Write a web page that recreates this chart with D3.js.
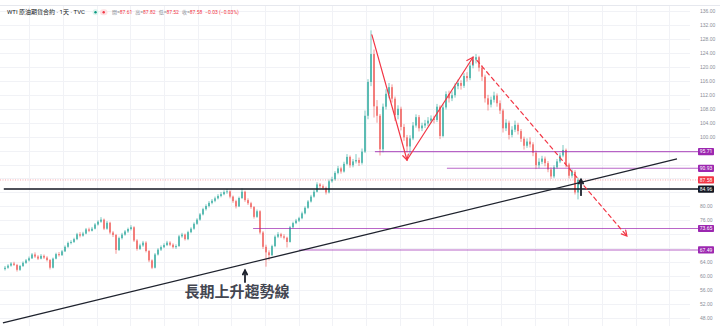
<!DOCTYPE html>
<html>
<head>
<meta charset="utf-8">
<script src="https://cdn.jsdelivr.net/npm/d3@7"></script>
<style>
  html, body { margin: 0; padding: 0; background: #fff; }
  svg { display: block; font-family: Roboto, "Noto Sans CJK TC", sans-serif; }
</style>
</head>
<body>
<div id="chart"></div>
<script>
// WTI daily candles (two sessions per candle)
var opens = [
  62.0,62.4,63.0,63.6,63.2,61.8,62.9,63.8,64.5,65.1,
  66.2,65.6,65.0,65.8,65.3,64.6,62.4,65.0,66.3,66.0,
  67.1,68.4,69.5,69.8,70.6,72.0,71.6,72.2,73.4,73.0,
  73.6,74.8,75.6,76.2,73.6,75.3,72.5,71.8,67.5,70.9,
  71.9,72.8,73.5,74.0,70.2,67.8,68.8,69.6,67.2,64.5,
  62.4,66.2,67.6,68.3,68.9,69.6,69.0,68.3,68.6,71.4,
  71.9,70.6,72.6,73.6,75.0,76.2,77.7,79.2,80.1,81.0,
  81.6,82.3,83.0,83.5,84.1,84.3,82.8,81.5,80.0,82.4,
  84.2,81.8,80.9,79.8,77.0,78.6,72.5,68.4,66.8,66.0,
  68.6,71.3,72.0,71.4,71.0,69.8,74.0,75.2,75.9,76.6,
  78.0,79.6,81.4,82.8,84.2,86.3,85.8,85.3,84.0,87.2,
  87.8,89.6,90.9,90.0,92.2,94.2,91.8,92.9,93.3,92.5,
  95.7,106.0,115.7,123.7,108.7,106.0,96.4,108.6,112.3,114.2,
  110.9,106.2,108.0,102.8,99.8,97.2,99.5,103.2,105.6,102.4,
  103.2,103.8,104.6,105.2,104.8,108.6,100.2,108.4,112.2,111.0,
  111.9,114.5,115.4,114.6,117.4,116.8,120.4,122.1,122.8,119.8,
  117.2,111.0,109.2,110.6,111.8,109.6,107.5,102.4,104.0,100.5,
  102.0,103.4,101.6,99.4,97.4,98.6,97.8,95.4,91.8,92.8,
  93.7,92.4,90.6,88.6,91.2,92.9,94.6,96.2,92.0,88.8,
  89.9,84.0,87.61
];
var highs = [
  62.9,63.4,64.0,64.1,63.5,63.2,64.2,64.9,65.6,66.6,
  66.8,66.0,66.3,66.2,65.7,64.9,65.3,66.7,66.9,67.5,
  68.8,69.9,70.3,71.0,72.4,72.6,72.7,73.8,73.9,74.1,
  75.2,76.0,76.9,76.5,75.8,75.6,72.9,72.1,71.3,72.4,
  73.2,73.9,74.6,74.3,70.6,69.3,70.1,70.0,67.5,64.8,
  66.6,68.0,68.8,69.4,70.1,70.0,69.4,69.1,71.8,72.4,
  72.2,73.0,74.0,75.4,76.6,78.1,79.6,80.6,81.5,82.1,
  82.8,83.5,84.1,84.6,85.0,84.6,83.1,81.9,82.8,85.2,
  84.5,82.3,81.3,80.1,79.1,78.9,72.9,69.0,67.4,69.0,
  71.7,72.6,72.4,72.0,71.3,74.4,75.6,76.4,77.0,78.5,
  80.0,81.8,83.3,84.7,86.9,86.7,86.3,85.7,87.7,88.5,
  90.1,91.6,91.4,92.8,95.0,94.6,93.6,95.0,94.0,96.6,
  107.5,116.5,130.5,125.0,110.5,106.5,109.5,113.6,115.4,115.0,
  111.5,109.0,108.6,103.6,100.5,100.4,104.2,106.4,106.2,104.0,
  104.8,105.6,106.1,106.0,109.4,109.0,109.3,113.0,113.2,113.0,
  115.3,116.4,116.2,118.2,118.5,121.2,123.0,123.7,123.2,120.5,
  117.8,112.0,111.5,112.9,112.4,110.4,108.0,105.0,104.6,103.0,
  104.6,104.0,102.2,100.0,99.5,99.8,98.4,96.0,93.8,94.5,
  94.3,93.0,91.2,91.8,93.6,95.3,97.6,96.6,92.5,90.6,
  90.4,88.2,87.82
];
var lows = [
  61.6,62.1,62.7,62.9,61.3,61.5,62.6,63.5,64.2,64.9,
  65.2,64.6,64.8,64.9,64.2,61.9,62.2,64.8,65.6,65.8,
  66.9,68.1,69.1,69.5,70.3,71.1,71.3,72.0,72.6,72.8,
  73.4,74.5,75.3,73.2,73.3,72.0,71.2,66.4,67.2,70.5,
  71.6,72.4,73.1,69.8,67.3,67.5,68.4,66.8,64.0,62.0,
  62.2,65.9,67.2,68.0,68.6,68.6,67.9,67.8,68.4,71.0,
  70.2,70.3,72.3,73.3,74.7,75.9,77.4,78.8,79.7,80.6,
  81.2,82.0,82.6,83.2,83.6,82.3,81.0,79.4,79.8,82.1,
  81.3,80.4,79.3,76.5,76.7,72.0,67.8,62.7,64.5,65.7,
  68.3,70.9,70.9,70.5,68.2,69.6,73.7,74.9,75.5,76.3,
  77.7,79.3,81.1,82.5,84.0,85.3,84.8,83.4,83.7,86.8,
  87.4,89.2,89.4,89.7,91.8,91.1,91.2,92.3,91.6,92.0,
  95.3,105.0,114.5,105.5,104.0,94.6,95.5,107.8,111.0,109.8,
  104.5,105.0,101.8,98.8,95.5,94.8,99.0,102.6,101.5,101.6,
  102.5,103.0,103.9,103.8,104.2,99.3,99.8,107.8,109.8,110.2,
  111.2,113.6,113.5,114.0,115.8,116.2,119.6,121.0,118.7,116.0,
  109.8,107.5,108.4,109.8,108.6,106.5,101.2,101.6,99.2,99.8,
  101.3,100.6,98.5,96.3,96.8,96.9,94.4,90.7,90.9,92.1,
  91.5,89.8,87.9,88.1,90.8,92.4,94.1,91.2,88.0,88.2,
  83.4,82.0,87.52
];
var closes = [
  62.4,63.0,63.6,63.2,61.8,62.9,63.8,64.5,65.1,66.2,
  65.6,65.0,65.8,65.3,64.6,62.4,65.0,66.3,66.0,67.1,
  68.4,69.5,69.8,70.6,72.0,71.6,72.2,73.4,73.0,73.6,
  74.8,75.6,76.2,73.6,75.3,72.5,71.8,67.5,70.9,71.9,
  72.8,73.5,74.0,70.2,67.8,68.8,69.6,67.2,64.5,62.4,
  66.2,67.6,68.3,68.9,69.6,69.0,68.3,68.6,71.4,71.9,
  70.6,72.6,73.6,75.0,76.2,77.7,79.2,80.1,81.0,81.6,
  82.3,83.0,83.5,84.1,84.3,82.8,81.5,80.0,82.4,84.2,
  81.8,80.9,79.8,77.0,78.6,72.5,68.4,66.8,66.0,68.6,
  71.3,72.0,71.4,71.0,69.8,74.0,75.2,75.9,76.6,78.0,
  79.6,81.4,82.8,84.2,86.3,85.8,85.3,84.0,87.2,87.8,
  89.6,90.9,90.0,92.2,94.2,91.8,92.9,93.3,92.5,95.7,
  106.0,115.7,123.7,108.7,106.0,96.4,108.6,112.3,114.2,110.9,
  106.2,108.0,102.8,99.8,97.2,99.5,103.2,105.6,102.4,103.2,
  103.8,104.6,105.2,104.8,108.6,100.2,108.4,112.2,111.0,111.9,
  114.5,115.4,114.6,117.4,116.8,120.4,122.1,122.8,119.8,117.2,
  111.0,109.2,110.6,111.8,109.6,107.5,102.4,104.0,100.5,102.0,
  103.4,101.6,99.4,97.4,98.6,97.8,95.4,91.8,92.8,93.7,
  92.4,90.6,88.6,91.2,92.9,94.6,96.2,92.0,88.8,89.9,
  84.0,87.6,87.58
];

var priceTicks = [48,52,56,60,64,68,72,76,80,84,88,92,96,100,104,108,112,116,120,124,128,132,136];
// month boundaries, in candle index
var monthLines = [8,19.2,30.5,41.7,52.9,64.2,75.4,86.6,97.9,109.1,120.3,131.6,142.8,154,165.3,176.5,187.7,199,210.2,221.4];

// horizontal levels drawn on the chart (price, first candle index)
var levelPrices = [95.71, 90.93, 73.65, 67.49];
var levelStarts = [123.3, 147.3, 82.7, 98];
var supportPrice = 84.96;
var lastPrice = 87.58;

// drawings, as [candle index, price]
var trendLine = [[-0.7, 46.54], [224, 93.6]];
var legDown = [[122.3, 129.2], [134, 93.3]];
var legUp = [[134, 93.3], [156, 122.8]];
var projection = [[157.3, 121.9], [207.3, 71.5]];
var markTrend = [[80, 58.3], [80, 61.6]];
var markLast = [[192, 83.2], [192, 87.7]];
var noteAt = [77.3, 54.0];

var header = "WTI 原油期貨合約 · 1天 · TVC";
var ohlcLabels = ["開=", "高=", "低=", "收="];
var change = "−0.03 (−0.03%)";

var width = 720, height = 326,
    axisX = 698,
    up = "#26a69a", down = "#ef5350",
    purple = "#9c27b0", red = "#f23645", ink = "#131722";

var x = d3.scaleLinear().domain([0, 192]).range([5, 581]);
var y = d3.scaleLinear().domain([48, 136]).range([317.9, 11.2]);

var svg = d3.select("#chart").append("svg")
  .attr("width", width)
  .attr("height", height);

// grid
svg.append("g").selectAll("line")
  .data(priceTicks).enter().append("line")
  .attr("x1", 0).attr("x2", axisX - 8)
  .attr("y1", function(d){ return Math.round(y(d)) + 0.5; })
  .attr("y2", function(d){ return Math.round(y(d)) + 0.5; })
  .attr("stroke", "#f1f2f6");
svg.append("g").selectAll("line")
  .data(monthLines).enter().append("line")
  .attr("x1", function(d){ return Math.round(x(d)) + 0.5; })
  .attr("x2", function(d){ return Math.round(x(d)) + 0.5; })
  .attr("y1", 5).attr("y2", height)
  .attr("stroke", "#f1f2f6");
svg.append("line")
  .attr("x1", 0).attr("x2", width).attr("y1", 5.5).attr("y2", 5.5)
  .attr("stroke", "#e6e8ee");

// price labels that sit on the axis; ticks under them are hidden
var tags = levelPrices.map(function(d){ return { v: d, c: purple }; })
  .concat([{ v: lastPrice, c: red }, { v: supportPrice, c: ink }]);

var axis = svg.append("g")
  .attr("transform", "translate(" + (axisX + 2) + ",0)")
  .call(d3.axisRight(y).tickValues(priceTicks).tickFormat(d3.format(".2f")).tickSize(0).tickPadding(0));
axis.select(".domain").remove();
axis.selectAll("text")
  .attr("fill", "#8a8d97")
  .style("font-size", "5px");
axis.selectAll(".tick")
  .filter(function(d){
    return tags.some(function(t){ return Math.abs(y(t.v) - y(d)) < 6.5; });
  })
  .remove();

// current price line
svg.append("line")
  .attr("x1", 0).attr("x2", axisX)
  .attr("y1", y(lastPrice)).attr("y2", y(lastPrice))
  .attr("stroke", red).attr("stroke-opacity", 0.45)
  .attr("stroke-dasharray", "1,1.5");

// candles
var candles = svg.append("g").selectAll("g")
  .data(closes).enter().append("g")
  .attr("fill", function(d, i){ return d >= opens[i] ? up : down; })
  .attr("stroke", function(d, i){ return d >= opens[i] ? up : down; })
  .attr("opacity", 0.75);
candles.append("line")
  .attr("x1", function(d, i){ return x(i); })
  .attr("x2", function(d, i){ return x(i); })
  .attr("y1", function(d, i){ return y(highs[i]); })
  .attr("y2", function(d, i){ return y(lows[i]); })
  .attr("stroke-width", 0.8);
candles.append("rect")
  .attr("stroke", "none")
  .attr("x", function(d, i){ return x(i) - 1; })
  .attr("width", 2)
  .attr("y", function(d, i){ return y(Math.max(d, opens[i])); })
  .attr("height", function(d, i){ return Math.max(0.8, Math.abs(y(d) - y(opens[i]))); });

// horizontal levels
svg.append("g").selectAll("line")
  .data(levelPrices).enter().append("line")
  .attr("x1", function(d, i){ return x(levelStarts[i]); })
  .attr("x2", axisX)
  .attr("y1", function(d){ return y(d); })
  .attr("y2", function(d){ return y(d); })
  .attr("stroke", purple).attr("stroke-opacity", 0.7)
  .attr("stroke-width", 1.1);
svg.append("line")
  .attr("x1", x(-0.4)).attr("x2", axisX)
  .attr("y1", y(supportPrice)).attr("y2", y(supportPrice))
  .attr("stroke", ink).attr("stroke-width", 1.5);

// trend line
var line = d3.line()
  .x(function(d){ return x(d[0]); })
  .y(function(d){ return y(d[1]); });
svg.append("path")
  .attr("d", line(trendLine))
  .attr("fill", "none")
  .attr("stroke", "#1e222d").attr("stroke-width", 1.3);

function arrow(pts, color, w, dash, head) {
  var g = svg.append("g")
    .attr("fill", "none").attr("stroke", color)
    .attr("stroke-width", w).attr("stroke-linecap", "round");
  g.append("path").attr("d", line(pts)).attr("stroke-dasharray", dash);
  var x1 = x(pts[0][0]), y1 = y(pts[0][1]), x2 = x(pts[1][0]), y2 = y(pts[1][1]);
  var a = Math.atan2(y2 - y1, x2 - x1);
  var p = d3.path();
  p.moveTo(x2 - head * Math.cos(a - 0.5), y2 - head * Math.sin(a - 0.5));
  p.lineTo(x2, y2);
  p.lineTo(x2 - head * Math.cos(a + 0.5), y2 - head * Math.sin(a + 0.5));
  g.append("path").attr("d", p.toString());
}
arrow(legDown, red, 1.2, null, 6);
arrow(legUp, red, 1.2, null, 7);
arrow(projection, red, 1.2, "4,3.5", 6);
arrow(markTrend, "#1e222d", 1.8, null, 4.5);
arrow(markLast, "#1e222d", 1.8, null, 4.5);

// note
svg.append("text")
  .attr("x", x(noteAt[0])).attr("y", y(noteAt[1]))
  .attr("text-anchor", "middle")
  .attr("fill", "#434651")
  .style("font-family", "'Noto Sans CJK TC', sans-serif")
  .style("font-weight", "bold")
  .style("font-size", "15px")
  .text("長期上升趨勢線");

// axis tags
var tag = svg.append("g").selectAll("g")
  .data(tags).enter().append("g")
  .attr("transform", function(d){ return "translate(" + axisX + "," + y(d.v) + ")"; });
tag.append("rect")
  .attr("x", 0).attr("y", -3.6).attr("width", 16).attr("height", 7.2).attr("rx", 0.8)
  .attr("fill", function(d){ return d.c; });
tag.append("text")
  .attr("x", 8).attr("dy", "0.35em")
  .attr("text-anchor", "middle")
  .attr("fill", "#fff")
  .style("font-size", "5px")
  .text(function(d){ return d3.format(".2f")(d.v); });

// header
svg.append("text")
  .attr("x", 7).attr("y", 14.3)
  .attr("fill", "#131722")
  .style("font-size", "6px")
  .text(header);
svg.append("circle").attr("cx", 95.5).attr("cy", 12.3).attr("r", 3).attr("fill", "#dff3ee");
svg.append("circle").attr("cx", 95.5).attr("cy", 12.3).attr("r", 1.2).attr("fill", "#089981");
svg.append("rect").attr("x", 100).attr("y", 9.3).attr("width", 7.5).attr("height", 6).attr("rx", 3).attr("fill", "#fde1e3");
svg.append("circle").attr("cx", 103.7).attr("cy", 12.3).attr("r", 1.2).attr("fill", red);

var ohlc = [opens[192], highs[192], lows[192], closes[192]];
var ht = svg.append("text")
  .attr("x", 112).attr("y", 14.2)
  .style("font-size", "5px");
ohlc.forEach(function(v, i){
  ht.append("tspan").attr("fill", "#8a8d97").attr("dx", i ? 3 : 0).text(ohlcLabels[i]);
  ht.append("tspan").attr("fill", red).text(d3.format(".2f")(v));
});
ht.append("tspan").attr("fill", red).attr("dx", 3).text(change);
</script>
</body>
</html>
